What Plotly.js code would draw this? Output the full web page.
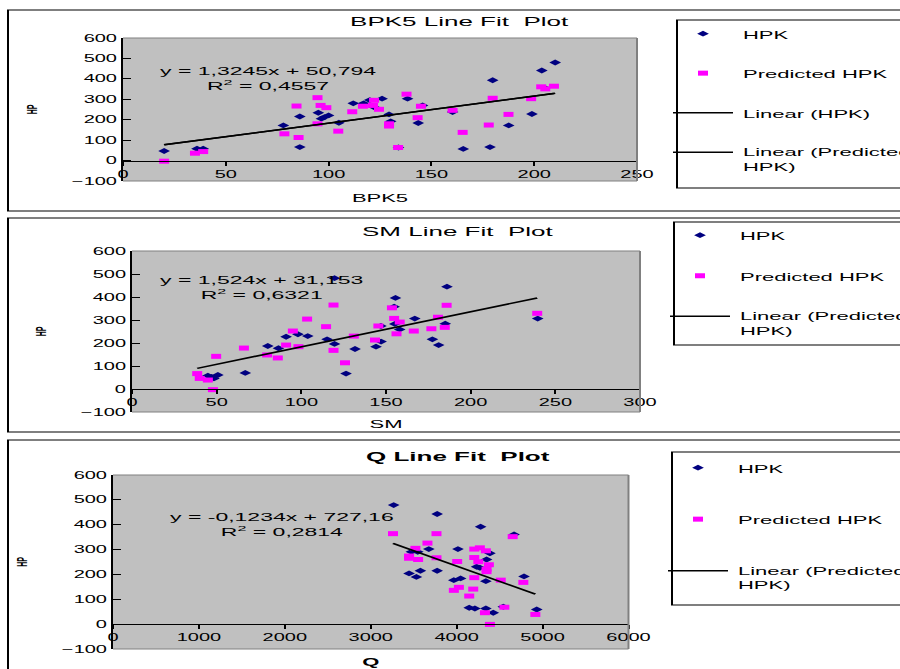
<!DOCTYPE html>
<html><head><meta charset="utf-8">
<script src="https://cdn.plot.ly/plotly-3.0.1.min.js"></script>
<style>
html,body{margin:0;padding:0;overflow:hidden;background:#fff;width:900px;height:669px}
#wrap{width:900px;height:669px;overflow:hidden;position:relative}
#chart{width:480px;height:669px;transform:scaleX(2);transform-origin:0 0;position:absolute;left:0;top:0}
</style></head><body><div id="wrap"><div id="chart"></div></div>
<script>
// ---------- data ----------
const bpk5HpkX = [20,36,39,78,86,86,95,96.5,98,100,105,112,117,120,122,126,129.4,130.2,134,138.4,143.6,145.7,160.3,165.5,178.5,179.8,187.6,198.9,203.7,205,210.2];
const bpk5HpkY = [47,58,58,172,216,66,234,205,213,221,185,280,280,296,262,303,226,192,64,303,184,270,238,57,66,393,172,228,441,356,480];
const bpk5PredX = [20,35,39,78.5,84.4,85.4,94.6,96.1,98.9,94.6,104.7,111.5,116.7,121.6,122.1,124.5,129.4,129.4,133.8,137.9,144.9,143.3,160.3,165.2,177.9,179.8,187.5,198.5,203.4,205.4,209.6];
const bpk5PredY = [-3,36,44,131,267,113,308,270,259,180,144,239,266,270,295,251,180,169,64,325,266,210,246,138,174,305,226,303,361,351,364];

const smHpkX = [44.8,47,48.4,50.7,66.9,80.2,86.5,91,98,103.8,115.2,119.6,119.6,126.4,131.7,144.1,147.1,147,155.6,154.8,155.2,158.1,167,177.4,181.1,185,186,239.6];
const smHpkY = [58,52,46,61,70,187,177,227,238,230,216,196,482,67,174,184,206,274,396,358,283,259,306,216,191,284,445,306];
const smPredX = [38.5,40,44.8,47.8,49.7,66.1,79.8,86.1,91,95,98.3,103.4,114.6,119,119,125.8,131,143.5,145.5,153.5,154.8,158.1,156.2,166.4,176.8,180.7,184.7,185.8,239.3];
const smPredY = [67,46,39,-3,142,178,148,135,191,252,184,304,271,365,168,114,230,213,274,353,307,291,240,252,262,312,268,364,329];

const qHpkX = [3267,3773,4279,4668,3473,3547,3676,4015,4387,4348,4232,4270,3446,3531,3578,3773,3967,4046,4340,4784,4146,4212,4340,4426,4543,4932];
const qHpkY = [479,443,392,361,291,291,302,302,285,260,231,227,204,190,215,215,177,184,173,192,66,63,63,46,70,59];
const qPredX = [3259,3765,3660,3520,3446,3446,3551,3765,4006,4205,4270,4340,4205,4252,4375,4348,4348,4205,4513,4776,4026,3967,4193,4146,4555,4329,4916,4387,4652];
const qPredY = [364,364,326,305,274,265,260,267,252,302,307,295,268,251,239,221,211,187,177,168,148,136,141,113,68,46,39,-1,352];

const trendBpk5 = [1.3245, 50.794];
const trendSm = [1.524, 31.153];
const trendQ = [-0.1234, 727.16];

const panelTitles = ['BPK5 Line Fit\u00a0 Plot', 'SM Line Fit\u00a0 Plot', '<b>Q Line Fit\u00a0 Plot</b>'];
const xTitles = ['BPK5', 'SM', '<b>Q</b>'];
const yTitle = 'HP';
const eqLines = [['y = 1,3245x + 50,794', 'R<sup>2</sup> = 0,4557'],
                 ['y = 1,524x + 31,153', 'R<sup>2</sup> = 0,6321'],
                 ['y = -0,1234x + 727,16', 'R<sup>2</sup> = 0,2814']];
const legendNames = ['HPK', 'Predicted HPK', 'Linear (HPK)', 'Linear (Predicted<br>HPK)'];

// ---------- layout helpers ----------
const S = 2, W = 480, H = 669;
const fx = px => px / (S * W);
const fy = py => 1 - py / H;
const F = 'Liberation Sans, Arial, sans-serif';
const NAVY = '#000080', MAG = '#ff00ff';

const panels = [
  {hx: bpk5HpkX, hy: bpk5HpkY, px: bpk5PredX, py: bpk5PredY, trend: trendBpk5, bothLines: true,
   xr: [0, 250], dx: 50, xd: [123, 637], yd: [38, 181],
   box: [8, 10, 211], leg: [677, 20, 188], legTop: 20, gap: 20.5,
   title: [459, 22], eq: [268, 79], xt: 15},
  {hx: smHpkX, hy: smHpkY, px: smPredX, py: smPredY, trend: trendSm, bothLines: false,
   xr: [0, 300], dx: 50, xd: [132, 640], yd: [251, 412],
   box: [8, 218, 432], leg: [674, 222, 345], legTop: 221.5, gap: 21.5,
   title: [458, 232], eq: [261.5, 287], xt: 13},
  {hx: qHpkX, hy: qHpkY, px: qPredX, py: qPredY, trend: trendQ, bothLines: false,
   xr: [0, 6000], dx: 1000, xd: [113, 628.5], yd: [475, 649],
   box: [8, 440, 700], leg: [672, 452, 605], legTop: 454, gap: 32.5,
   title: [457, 456], eq: [282, 524], xt: 16}
];

const yr = [-100, 600];
const data = [];
const layout = {
  width: W, height: H, margin: {l: 0, r: 0, t: 0, b: 0},
  paper_bgcolor: '#fff', plot_bgcolor: '#c0c0c0',
  showlegend: true, shapes: [], annotations: [],
  font: {family: F, color: '#000'}
};

panels.forEach((p, i) => {
  const n = i === 0 ? '' : String(i + 1);
  const xa = 'x' + n, ya = 'y' + n;
  const lg = 'legend' + n;
  const yDom = [fy(p.yd[1]), fy(p.yd[0])];
  const zeroPos = yDom[0] + (yDom[1] - yDom[0]) * (0 - yr[0]) / (yr[1] - yr[0]);

  layout['xaxis' + n] = {
    domain: [fx(p.xd[0]), fx(p.xd[1])], range: p.xr, dtick: p.dx, tick0: 0,
    anchor: 'free', position: zeroPos,
    showline: true, linecolor: '#000', linewidth: 1,
    ticks: 'outside', ticklen: 4, tickcolor: '#000', tickwidth: 1,
    showgrid: false, zeroline: false, fixedrange: true,
    tickfont: {family: F, size: 10, color: '#000'},
    title: {text: xTitles[i], font: {family: F, size: 11, color: '#000'}, standoff: p.xt}
  };
  layout['yaxis' + n] = {
    domain: yDom, range: yr, dtick: 100, tick0: 0, anchor: xa,
    showline: true, linecolor: '#000', linewidth: 1,
    ticks: 'inside', ticklen: 4, tickcolor: '#000', tickwidth: 1,
    showgrid: false, zeroline: false, fixedrange: true,
    tickfont: {family: F, size: 10, color: '#000'},
    title: {text: '<b>' + yTitle + '</b>', font: {family: F, size: 7, color: '#000'}, standoff: 15.5}
  };
  layout[lg] = {
    x: fx(p.leg[0] - 14), y: fy(p.legTop), xanchor: 'left', yanchor: 'top',
    bgcolor: 'rgba(0,0,0,0)', borderwidth: 0, valign: 'top',
    tracegroupgap: p.gap, itemclick: false, itemdoubleclick: false,
    font: {family: F, size: 11, color: '#000'}
  };

  data.push({type: 'scatter', mode: 'markers', x: p.hx, y: p.hy, xaxis: xa, yaxis: ya,
    name: legendNames[0], legend: lg, legendgroup: 'h' + i,
    marker: {symbol: 'diamond', size: 4.5, color: NAVY, line: {width: 0}}, cliponaxis: false});
  data.push({type: 'scatter', mode: 'markers', x: p.px, y: p.py, xaxis: xa, yaxis: ya,
    name: legendNames[1], legend: lg, legendgroup: 'p' + i,
    marker: {symbol: 'square', size: 5, color: MAG, line: {width: 0}}, cliponaxis: false});

  const mk = (xs) => {
    const x0 = Math.min(...xs), x1 = Math.max(...xs);
    return {x: [x0, x1], y: [p.trend[0] * x0 + p.trend[1], p.trend[0] * x1 + p.trend[1]]};
  };
  if (p.bothLines) {
    const t = mk(p.hx);
    data.push({type: 'scatter', mode: 'lines', x: t.x, y: t.y, xaxis: xa, yaxis: ya,
      name: legendNames[2], legend: lg, legendgroup: 'lh' + i, line: {color: '#000', width: 1.5}});
  }
  const t2 = mk(p.px);
  data.push({type: 'scatter', mode: 'lines', x: t2.x, y: t2.y, xaxis: xa, yaxis: ya,
    name: legendNames[3], legend: lg, legendgroup: 'lp' + i, line: {color: '#000', width: 1.5}});

  // outer chart frame
  layout.shapes.push({type: 'rect', xref: 'paper', yref: 'paper',
    x0: fx(p.box[0]), x1: 1.02, y0: fy(p.box[2]), y1: fy(p.box[1]),
    line: {color: '#000', width: 1}, fillcolor: 'rgba(0,0,0,0)', layer: 'below'});
  // legend frame
  layout.shapes.push({type: 'rect', xref: 'paper', yref: 'paper',
    x0: fx(p.leg[0]), x1: 1.02, y0: fy(p.leg[2]), y1: fy(p.leg[1]),
    line: {color: '#000', width: 1}, fillcolor: 'rgba(0,0,0,0)', layer: 'below'});
  // plot area grey border (top, right, bottom)
  const dref = {xref: xa + ' domain', yref: ya + ' domain', line: {color: '#808080', width: 1}, layer: 'above'};
  layout.shapes.push(Object.assign({type: 'line', x0: 0, x1: 1, y0: 1, y1: 1}, dref));
  layout.shapes.push(Object.assign({type: 'line', x0: 1, x1: 1, y0: 0, y1: 1}, dref));
  layout.shapes.push(Object.assign({type: 'line', x0: 0, x1: 1, y0: 0, y1: 0}, dref));

  // panel title
  layout.annotations.push({xref: 'paper', yref: 'paper', x: fx(p.title[0]), y: fy(p.title[1]),
    xanchor: 'center', yanchor: 'middle', showarrow: false, text: panelTitles[i],
    font: {family: F, size: 13, color: '#000'}});
  // trendline equation (two centred lines)
  layout.annotations.push({xref: 'paper', yref: 'paper', x: fx(p.eq[0]), y: fy(p.eq[1]),
    xanchor: 'center', yanchor: 'middle', align: 'center', showarrow: false,
    text: eqLines[i].join('<br>'), font: {family: F, size: 11.5, color: '#000'}});
});

Plotly.newPlot('chart', data, layout, {displayModeBar: false, staticPlot: true});
</script></body></html>
